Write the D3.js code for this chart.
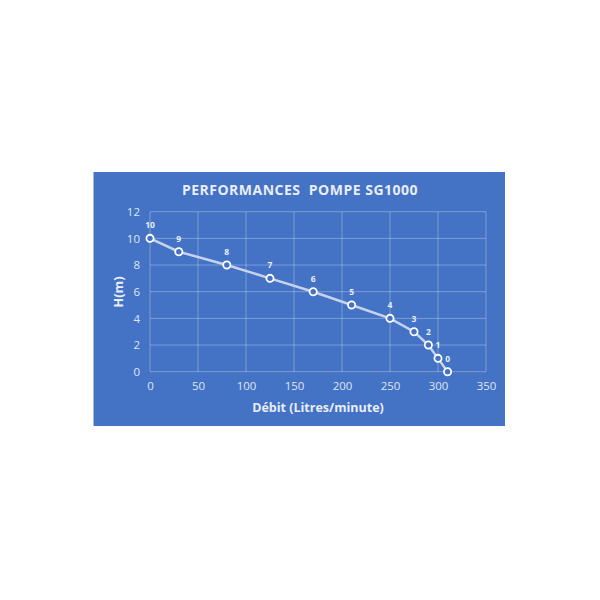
<!DOCTYPE html>
<html><head><meta charset="utf-8">
<script src="https://cdn.jsdelivr.net/npm/d3@7"></script>
<style>body{margin:0;background:#fff}svg{display:block}</style>
</head><body>
<script>
const debit = [0, 30, 80, 125, 170, 210, 250, 275, 290, 300, 310];
const hauteur = [10, 9, 8, 7, 6, 5, 4, 3, 2, 1, 0];
const pointLabels = ["10", "9", "8", "7", "6", "5", "4", "3", "2", "1", "0"];
const xTicks = [0, 50, 100, 150, 200, 250, 300, 350];
const yTicks = [0, 2, 4, 6, 8, 10, 12];
const title = "PERFORMANCES\u00a0\u00a0POMPE SG1000";
const xTitle = "Débit (Litres/minute)";
const yTitle = "H(m)";

const W = 600, H = 600;
const svg = d3.select("body").append("svg").attr("width", W).attr("height", H);
const font = "'Open Sans', 'Noto Sans', sans-serif";

svg.append("rect").attr("x", 93.5).attr("y", 172).attr("width", 411.5).attr("height", 254)
  .attr("fill", "#4472C4");

const x = d3.scaleLinear().domain([0, 350]).range([150, 486]);
const y = d3.scaleLinear().domain([0, 12]).range([371.7, 211.7]);

const grid = svg.append("g").attr("stroke", "rgba(255,255,255,0.3)").attr("stroke-width", 1);
grid.selectAll("line.v").data(xTicks).join("line")
  .attr("x1", d => x(d)).attr("x2", d => x(d)).attr("y1", y(0)).attr("y2", y(12));
grid.selectAll("line.h").data(yTicks).join("line")
  .attr("y1", d => y(d)).attr("y2", d => y(d)).attr("x1", x(0)).attr("x2", x(350));

const xAxis = svg.append("g").attr("transform", `translate(0,${y(0)})`)
  .call(d3.axisBottom(x).tickValues(xTicks).tickSize(0).tickPadding(10));
const yAxis = svg.append("g").attr("transform", `translate(${x(0)},0)`)
  .call(d3.axisLeft(y).tickValues(yTicks).tickSize(0).tickPadding(10));
[xAxis, yAxis].forEach(a => {
  a.select(".domain").remove();
  a.selectAll("text").attr("fill", "#dfe6f3").attr("font-family", font).attr("font-size", 11.5);
});

svg.append("text").attr("x", 300).attr("y", 195).attr("text-anchor", "middle")
  .attr("fill", "#e8edf7").attr("font-family", font).attr("font-weight", "bold")
  .attr("font-size", 14).attr("letter-spacing", 0.5).text(title);
svg.append("text").attr("x", 318).attr("y", 412).attr("text-anchor", "middle")
  .attr("fill", "#e8edf7").attr("font-family", font).attr("font-weight", "bold")
  .attr("font-size", 12.5).text(xTitle);
svg.append("text").attr("transform", "translate(123,292) rotate(-90)").attr("text-anchor", "middle")
  .attr("fill", "#e8edf7").attr("font-family", font).attr("font-weight", "bold")
  .attr("font-size", 13).text(yTitle);

const pts = debit.map((d, i) => ({x: d, y: hauteur[i], label: pointLabels[i]}));
svg.append("path").datum(pts)
  .attr("fill", "none").attr("stroke", "#c7d3ec").attr("stroke-width", 2.5)
  .attr("d", d3.line().x(d => x(d.x)).y(d => y(d.y)));
svg.selectAll("circle.pt").data(pts).join("circle")
  .attr("cx", d => x(d.x)).attr("cy", d => y(d.y)).attr("r", 3.6)
  .attr("fill", "#4472C4").attr("stroke", "#ffffff").attr("stroke-width", 1.8);
svg.selectAll("text.lbl").data(pts).join("text")
  .attr("x", d => x(d.x)).attr("y", d => y(d.y) - 10)
  .attr("text-anchor", "middle").attr("fill", "#e8edf7")
  .attr("font-family", font).attr("font-weight", "bold").attr("font-size", 8.5)
  .text(d => d.label);
</script>
</body></html>
